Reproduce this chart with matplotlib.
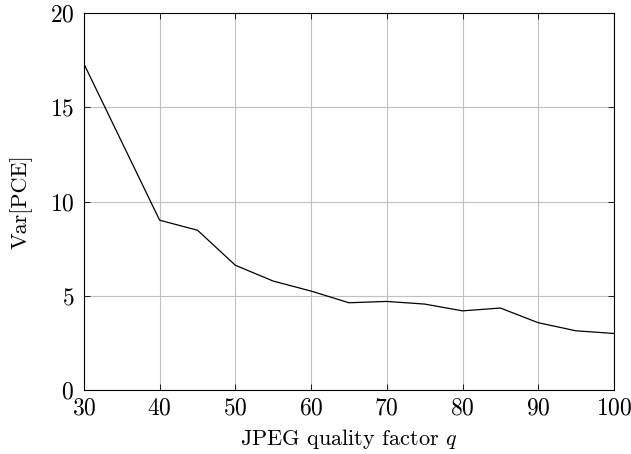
import matplotlib
matplotlib.use("Agg")
import matplotlib.pyplot as plt

# JPEG quality factor vs variance of PCE
quality = [30, 40, 45, 50, 55, 60, 65, 70, 75, 80, 85, 90, 95, 100]
var_pce = [17.31, 9.01, 8.48, 6.62, 5.78, 5.25, 4.63, 4.70, 4.56, 4.20, 4.35, 3.57, 3.14, 3.00]

xticks = [30, 40, 50, 60, 70, 80, 90, 100]
yticks = [0, 5, 10, 15, 20]

plt.rcParams['font.family'] = 'serif'
plt.rcParams['font.serif'] = ['cmr10']
plt.rcParams['mathtext.fontset'] = 'cm'
plt.rcParams['axes.formatter.use_mathtext'] = True
plt.rcParams['axes.unicode_minus'] = False

fig = plt.figure(figsize=(6.31, 4.54), dpi=100)
ax = fig.add_axes([0.133, 0.141, 0.840, 0.830])

ax.plot(quality, var_pce, color='black', linewidth=0.9)

ax.set_xlim(30, 100)
ax.set_ylim(0, 20)
ax.set_xticks(xticks)
ax.set_yticks(yticks)
ax.grid(True, color='#c0c0c0', linewidth=0.8)
ax.set_axisbelow(True)

ax.tick_params(direction='in', length=4, width=0.6, top=True, right=True,
               labelsize=17, colors='black')
ax.tick_params(axis='x', pad=5)
ax.tick_params(axis='y', pad=7)
for s in ax.spines.values():
    s.set_linewidth(0.8)

ax.set_xlabel('JPEG quality factor $q$', fontsize=16, labelpad=6)
ax.set_ylabel('Var[PCE]', fontsize=16, labelpad=12)

fig.savefig('out.png', dpi=100)
